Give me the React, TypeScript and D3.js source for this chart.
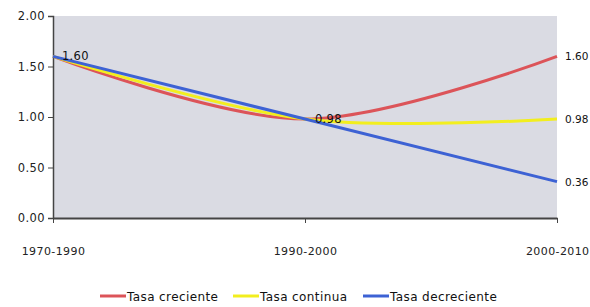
import React, { useEffect, useRef } from "react";
import * as d3 from "d3";

const periods = ["1970-1990", "1990-2000", "2000-2010"];
const yTicks = [0, 0.5, 1, 1.5, 2];
const creciente = [1.6, 0.98, 1.6];
const continua = [1.6, 0.98, 0.98];
const decreciente = [1.6, 0.98, 0.36];
const seriesNames = ["Tasa creciente", "Tasa continua", "Tasa decreciente"];
const seriesColors = ["#dc5459", "#f2ee1e", "#3d62d4"];

const App = () => {
  const svgRef = useRef(null);

  useEffect(() => {
    const width = 590;
    const height = 307;
    const margin = { top: 16, right: 33, bottom: 89, left: 53 };
    const font = "'DejaVu Sans', sans-serif";

    const svg = d3.select(svgRef.current).attr("width", width).attr("height", height);
    svg.selectAll("*").remove();

    const x = d3.scalePoint().domain(periods).range([margin.left, width - margin.right]);
    const y = d3.scaleLinear().domain([0, 2]).range([height - margin.bottom, margin.top]);

    // plot background
    svg.append("rect")
      .attr("x", margin.left)
      .attr("y", margin.top)
      .attr("width", width - margin.left - margin.right)
      .attr("height", height - margin.top - margin.bottom)
      .attr("fill", "#dadbe3");

    // y axis
    const yAxis = svg.append("g")
      .attr("transform", `translate(${margin.left},0)`)
      .call(d3.axisLeft(y).tickValues(yTicks).tickFormat(d3.format(".2f")).tickSize(5).tickPadding(3));
    yAxis.select(".domain").attr("stroke", "#444").attr("stroke-width", 1.5);
    yAxis.selectAll(".tick line").attr("stroke", "#444");
    yAxis.selectAll("text").attr("font-family", font).attr("font-size", 11.5)
      .attr("letter-spacing", 0.4).attr("fill", "#222");

    // x axis
    const xAxis = svg.append("g")
      .attr("transform", `translate(0,${y(0)})`)
      .call(d3.axisBottom(x).tickSize(5).tickSizeOuter(0).tickPadding(24));
    xAxis.select(".domain").attr("stroke", "#444").attr("stroke-width", 2);
    xAxis.selectAll(".tick line").attr("stroke", "#444");
    xAxis.selectAll("text").attr("font-family", font).attr("font-size", 11)
      .attr("letter-spacing", 0.4).attr("fill", "#222");
    // last label is kept inside the window
    xAxis.selectAll("text").filter((d) => d === periods[2]).attr("text-anchor", "end").attr("dx", 32);

    const allSeries = [creciente, continua, decreciente];
    const smooth = [true, true, false];

    allSeries.forEach((vals, i) => {
      const line = d3.line<number>()
        .x((d, j) => x(periods[j]))
        .y((d) => y(d))
        .curve(smooth[i] ? d3.curveCatmullRom.alpha(0.5) : d3.curveLinear);
      svg.append("path")
        .datum(vals)
        .attr("d", line)
        .attr("fill", "none")
        .attr("stroke", seriesColors[i])
        .attr("stroke-width", 3);
    });

    // value labels
    const labels = svg.append("g").attr("font-family", font).attr("font-size", 11.5)
      .attr("letter-spacing", 0.3).attr("fill", "#111");
    labels.append("text").attr("x", x(periods[0]) + 9).attr("y", y(decreciente[0]) + 4)
      .text(decreciente[0].toFixed(2));
    labels.append("text").attr("x", x(periods[1]) + 10).attr("y", y(decreciente[1]) + 4)
      .text(decreciente[1].toFixed(2));
    allSeries.forEach((vals) => {
      labels.append("text").attr("x", x(periods[2]) + 8).attr("y", y(vals[2]) + 4)
        .attr("font-size", 10.5).attr("letter-spacing", 0)
        .text(vals[2].toFixed(2));
    });

    // legend
    const legendX = [100, 233, 363];
    const legend = svg.append("g").attr("transform", "translate(0,296)");
    seriesNames.forEach((name, i) => {
      legend.append("line")
        .attr("x1", legendX[i]).attr("x2", legendX[i] + 26)
        .attr("y1", 0).attr("y2", 0)
        .attr("stroke", seriesColors[i]).attr("stroke-width", 3);
      legend.append("text")
        .attr("x", legendX[i] + 27).attr("y", 4.5)
        .attr("font-family", font).attr("font-size", 12)
        .attr("letter-spacing", 0.4).attr("fill", "#111")
        .text(name);
    });
  }, []);

  return (
    <div style={{ position: "absolute", left: 0, top: 0 }}>
      <svg ref={svgRef} style={{ display: "block" }} />
    </div>
  );
};

export default App;
